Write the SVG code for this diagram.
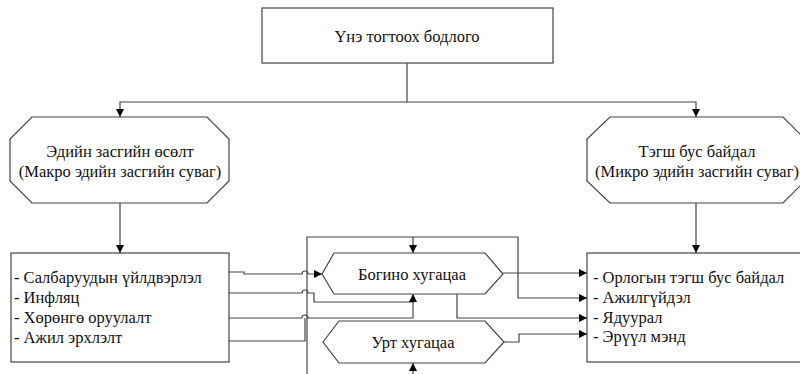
<svg xmlns="http://www.w3.org/2000/svg" width="800" height="374" viewBox="0 0 800 374">
<style>
.n{fill:#fff;stroke:#444;stroke-width:1.2}
.c{fill:none;stroke:#444;stroke-width:1.2}
text{font-family:'Liberation Serif','Times New Roman',serif;font-size:16.5px;fill:#111}
.m{text-anchor:middle}
</style>
<defs>
<marker id="ah" viewBox="0 0 10 10" refX="10" refY="5" markerWidth="9" markerHeight="8" orient="auto" markerUnits="userSpaceOnUse"><path d="M0,0 L10,5 L0,10 z" fill="#000"/></marker>
</defs>
<rect width="800" height="374" fill="#fff"/>
<g id="connectors">
<path class="c" d="M407,63 V102 H120 V117" marker-end="url(#ah)"/>
<path class="c" d="M407,102 H696 V117" marker-end="url(#ah)"/>
<path class="c" d="M120,203 V253" marker-end="url(#ah)"/>
<path class="c" d="M696,203 V253" marker-end="url(#ah)"/>
<path class="c" d="M307,380 V237 H518 V298 H587" marker-end="url(#ah)"/>
<path class="c" d="M413,237 V253" marker-end="url(#ah)"/>
<path class="c" d="M413,380 V363" marker-end="url(#ah)"/>
<path class="c" d="M229,272 H244 V274 H302 a3,3 0 0 1 6,0 H322" marker-end="url(#ah)"/>
<path class="c" d="M229,293 H302 a3,3 0 0 1 6,0 H314 V302 H413 V294" marker-end="url(#ah)"/>
<path class="c" d="M229,318 H302 a3,3 0 0 1 6,0 H413 V302"/>
<path class="c" d="M229,341 H305 V318"/>
<path class="c" d="M503,273 H587" marker-end="url(#ah)"/>
<path class="c" d="M457,294 V318 H587" marker-end="url(#ah)"/>
<path class="c" d="M504,342 H519 V334 H587" marker-end="url(#ah)"/>
</g>
<g id="policy">
<rect class="n" x="262" y="8" width="291" height="55"/>
<text class="m" x="407" y="42">Үнэ тогтоох бодлого</text>
</g>
<g id="growth">
<polygon class="n" points="32,117 207,117 229,139 229,181 207,203 32,203 10,181 10,139"/>
<text class="m" x="120" y="157">Эдийн засгийн өсөлт</text>
<text class="m" x="120" y="177">(Макро эдийн засгийн суваг)</text>
</g>
<g id="inequality">
<polygon class="n" points="610,117 783,117 805,139 805,181 783,203 610,203 587,181 587,139"/>
<text class="m" x="697" y="157">Тэгш бус байдал</text>
<text class="m" x="697" y="177">(Микро эдийн засгийн суваг)</text>
</g>
<g id="macro-list">
<rect class="n" x="11" y="253" width="218" height="109"/>
<text x="14" y="283">- Салбаруудын үйлдвэрлэл</text>
<text x="14" y="303">- Инфляц</text>
<text x="14" y="323">- Хөрөнгө оруулалт</text>
<text x="14" y="343">- Ажил эрхлэлт</text>
</g>
<g id="micro-list">
<rect class="n" x="587" y="253" width="230" height="109"/>
<text x="593" y="283">- Орлогын тэгш бус байдал</text>
<text x="593" y="303">- Ажилгүйдэл</text>
<text x="593" y="323">- Ядуурал</text>
<text x="593" y="342">- Эрүүл мэнд</text>
</g>
<g id="short-term">
<polygon class="n" points="322,274 334,253 485,253 503,274 485,294 334,294"/>
<text class="m" x="412" y="280">Богино хугацаа</text>
</g>
<g id="long-term">
<polygon class="n" points="323,342 339,321 485,321 504,342 485,363 339,363"/>
<text class="m" x="413" y="348">Урт хугацаа</text>
</g>
</svg>
